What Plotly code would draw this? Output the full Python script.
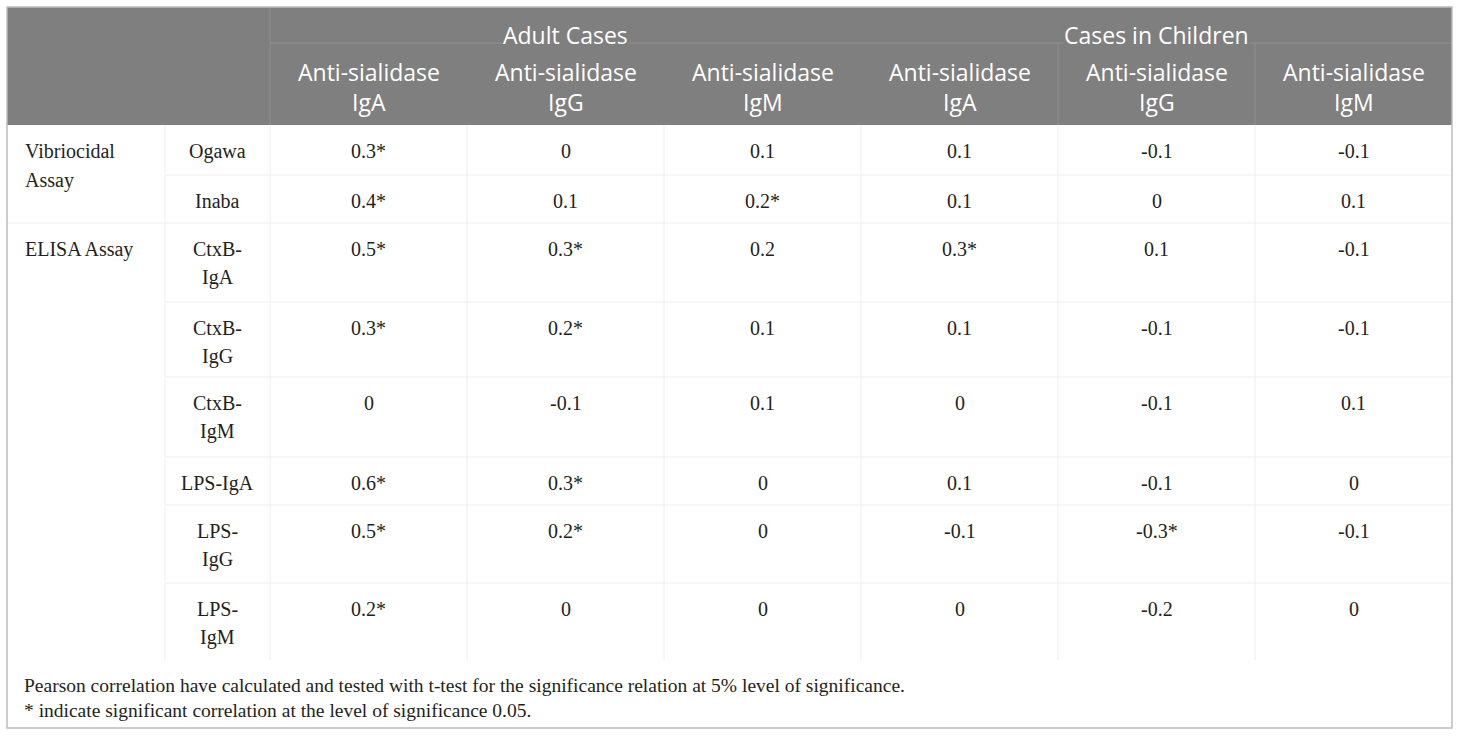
import plotly.graph_objects as go

# table content
group_labels = ["Vibriocidal\nAssay", "ELISA Assay"]
group_sizes = [2, 6]
row_labels = ["Ogawa", "Inaba", "CtxB-\nIgA", "CtxB-\nIgG", "CtxB-\nIgM",
              "LPS-IgA", "LPS-\nIgG", "LPS-\nIgM"]
case_groups = ["Adult Cases", "Cases in Children"]
antibodies = ["Anti-sialidase\nIgA", "Anti-sialidase\nIgG", "Anti-sialidase\nIgM"]

adult_iga = [0.3, 0.4, 0.5, 0.3, 0, 0.6, 0.5, 0.2]
adult_igg = [0, 0.1, 0.3, 0.2, -0.1, 0.3, 0.2, 0]
adult_igm = [0.1, 0.2, 0.2, 0.1, 0.1, 0, 0, 0]
child_iga = [0.1, 0.1, 0.3, 0.1, 0, 0.1, -0.1, 0]
child_igg = [-0.1, 0, 0.1, -0.1, -0.1, -0.1, -0.3, -0.2]
child_igm = [-0.1, 0.1, -0.1, -0.1, 0.1, 0, -0.1, 0]

adult_iga_sig = [1, 1, 1, 1, 0, 1, 1, 1]
adult_igg_sig = [0, 0, 1, 1, 0, 1, 1, 0]
adult_igm_sig = [0, 1, 0, 0, 0, 0, 0, 0]
child_iga_sig = [0, 0, 1, 0, 0, 0, 0, 0]
child_igg_sig = [0, 0, 0, 0, 0, 0, 1, 0]
child_igm_sig = [0, 0, 0, 0, 0, 0, 0, 0]

footnotes = [
    "Pearson correlation have calculated and tested with t-test for the significance relation at 5% level of significance.",
    "* indicate significant correlation at the level of significance 0.05.",
]

values = [adult_iga, adult_igg, adult_igm, child_iga, child_igg, child_igm]
sigs = [adult_iga_sig, adult_igg_sig, adult_igm_sig, child_iga_sig, child_igg_sig, child_igm_sig]

# layout (pixel grid)
W, H = 1460, 736
col_edges = [7, 165, 270, 467, 664, 861, 1058, 1255, 1452]
head_top, head_mid, head_bot = 7, 43, 125
row_edges = [125, 175, 223, 302, 377, 457, 505, 583, 660]
box_bottom = 728

HEAD_BG = "#7f7f7f"
HEAD_LINE = "#919191"
BODY_LINE = "#eeeeee"
BORDER = "#bdbdbd"
TXT = "#231f20"
SERIF = "Liberation Serif"
SANS = "Open Sans"
BODY_SIZE = 20
HEAD_SIZE = 23

fig = go.Figure()
shapes = []
ann = []


def line(x0, y0, x1, y1, color, width=1):
    shapes.append(dict(type="line", x0=x0, y0=y0, x1=x1, y1=y1,
                       line=dict(color=color, width=width), layer="above"))


def text(x, y, s, size, color, family, xanchor="center", bg=None, line_h=None):
    for i, part in enumerate(s.split("\n")):
        a = dict(x=x, y=y + i * (line_h or 0), text=part, showarrow=False,
                 xanchor=xanchor, yanchor="middle",
                 font=dict(size=size, color=color, family=family))
        if bg:
            a["bgcolor"] = bg
            a["borderpad"] = 0
        ann.append(a)


# header block
shapes.append(dict(type="rect", x0=col_edges[0], x1=col_edges[-1], y0=head_top, y1=head_bot,
                   fillcolor=HEAD_BG, line=dict(width=0), layer="below"))
line(col_edges[2], head_mid, col_edges[-1], head_mid, HEAD_LINE)
line(col_edges[2], head_top, col_edges[2], head_bot, HEAD_LINE)
for xe in col_edges[6:8]:
    line(xe, head_mid, xe, head_bot, HEAD_LINE)

for g, name in enumerate(case_groups):
    cx = (col_edges[2 + 3 * g] + col_edges[5 + 3 * g]) / 2
    text(cx, 35, name, HEAD_SIZE, "white", SANS, bg=HEAD_BG)
    for k, ab in enumerate(antibodies):
        c = 2 + 3 * g + k
        text((col_edges[c] + col_edges[c + 1]) / 2, 72, ab, HEAD_SIZE, "white", SANS, line_h=30)

# body grid
n_rows = len(row_labels)
group_starts = [sum(group_sizes[:i]) for i in range(len(group_sizes))]
for r in range(1, n_rows):
    x0 = col_edges[0] if r in group_starts else col_edges[1]
    line(x0, row_edges[r], col_edges[-1], row_edges[r], BODY_LINE)
for xe in col_edges[1:-1]:
    line(xe, row_edges[0], xe, row_edges[-1], BODY_LINE)

# body text
for g, lab in enumerate(group_labels):
    y0 = row_edges[group_starts[g]]
    text(col_edges[0] + 16, y0 + 26, lab, BODY_SIZE, TXT, SERIF, xanchor="left", line_h=29)

for r, lab in enumerate(row_labels):
    y0 = row_edges[r] + 26
    text((col_edges[1] + col_edges[2]) / 2, y0, lab, BODY_SIZE, TXT, SERIF, line_h=28)
    for c in range(6):
        v = values[c][r]
        s = f"{v:g}" + ("*" if sigs[c][r] else "")
        text((col_edges[c + 2] + col_edges[c + 3]) / 2, y0, s, BODY_SIZE, TXT, SERIF)

# footnotes
for i, fn in enumerate(footnotes):
    text(col_edges[0] + 15, 685 + 25 * i, fn, 19.5, TXT, SERIF, xanchor="left")

# outer frame
shapes.append(dict(type="rect", x0=col_edges[0], x1=col_edges[-1], y0=head_top, y1=box_bottom,
                   line=dict(color=BORDER, width=1.5), fillcolor="rgba(0,0,0,0)", layer="above"))

fig.update_layout(
    width=W, height=H,
    margin=dict(l=0, r=0, t=0, b=0),
    paper_bgcolor="white", plot_bgcolor="white",
    xaxis=dict(range=[0, W], visible=False, fixedrange=True),
    yaxis=dict(range=[H, 0], visible=False, fixedrange=True),
    shapes=shapes, annotations=ann, showlegend=False,
)

fig.write_html("out.html", config={"displayModeBar": False},
               post_script="document.body.style.margin='0';")
